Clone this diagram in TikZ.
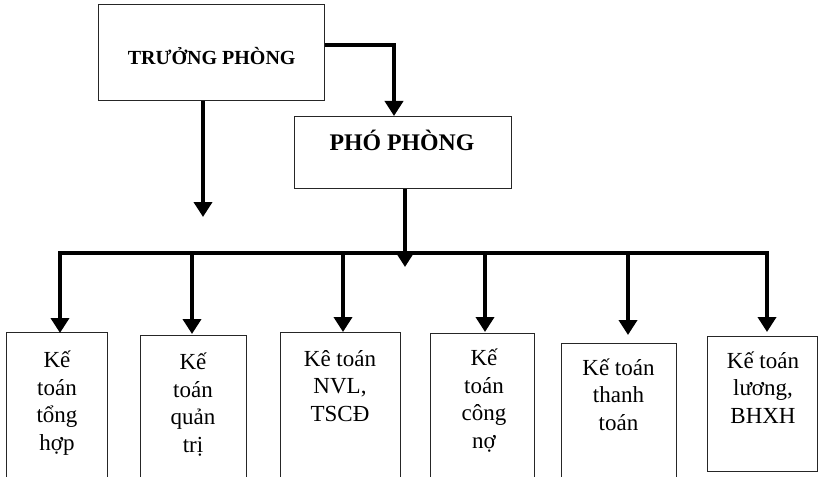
\documentclass[tikz,border=0pt]{standalone}
\usepackage{fontspec}
\setmainfont{Liberation Serif}
\usetikzlibrary{arrows.meta}
\begin{document}
\begin{tikzpicture}[x=1pt,y=-1pt,
  conn/.style={line width=4.5pt},
  arr/.style={conn,-{Triangle[width=18pt,length=15pt]}},
  boxline/.style={draw=black!85, line width=1.2pt, inner sep=0pt, anchor=north west},
  toptxt/.style={font=\bfseries, anchor=base, inner sep=0pt},
  bottxt/.style={font=\fontsize{23}{27.5}\selectfont, align=center, anchor=base, inner sep=0pt},
]
\useasboundingbox (0,0) rectangle (818,476);
\clip (0,0) rectangle (818,476);

% top boxes
\node[boxline, minimum width=226pt, minimum height=96pt] (tp) at (98,4) {};
\node[toptxt, font=\fontsize{20}{24}\selectfont\bfseries] (tpt) at (211.7,65) {TRƯỞNG PHÒNG};
\node[boxline, minimum width=217pt, minimum height=72pt] (pp) at (294,116) {};
\node[toptxt, font=\fontsize{23.8}{27}\selectfont\bfseries] (ppt) at (402,150) {PHÓ PHÒNG};

% bottom boxes
\node[boxline, minimum width=101pt, minimum height=150pt] (b1) at (6,332) {};
\node[boxline, minimum width=106pt, minimum height=150pt] (b2) at (140,335) {};
\node[boxline, minimum width=120pt, minimum height=150pt] (b3) at (280,332) {};
\node[boxline, minimum width=104pt, minimum height=150pt] (b4) at (430,333) {};
\node[boxline, minimum width=115pt, minimum height=150pt] (b5) at (561,343) {};
\node[boxline, minimum width=110pt, minimum height=135pt] (b6) at (707,336) {};

% text nodes: anchor base = baseline of the last line
\node[bottxt] (t1) at (57,450) {Kế\\toán\\tổng\\hợp};
\node[bottxt] (t2) at (193,452) {Kế\\toán\\quản\\trị};
\node[bottxt] (t3) at (340,421) {Kê toán\\NVL,\\TSCĐ};
\node[bottxt] (t4) at (484,448) {Kế\\toán\\công\\nợ};
\node[bottxt] (t5) at (618.5,430) {Kế toán\\thanh\\toán};
\node[bottxt] (t6) at (763,423) {Kế toán\\lương,\\BHXH};

% connectors
\coordinate (k1) at (394,45);
\draw[arr] (k1 -| tp.east) -- (k1) -- (k1 |- pp.north);
\coordinate (tpend) at (203,217);
\draw[arr] (tpend |- tp.south) -- (tpend);
\coordinate (ppend) at (405,267);
\draw[arr] (ppend |- pp.south) -- (ppend);

\coordinate (busL) at (60,253);
\coordinate (busR) at (767,253);
\draw[conn, line cap=rect] (busL) -- (busR);

\coordinate (a1) at (60,333);
\coordinate (a2) at (192,334);
\coordinate (a3) at (343,332);
\coordinate (a4) at (485,332);
\coordinate (a5) at (628,335);
\coordinate (a6) at (767,332);
\foreach \i in {1,...,6}{
  \draw[arr] (busL -| a\i) -- (a\i);
}
\end{tikzpicture}
\end{document}
